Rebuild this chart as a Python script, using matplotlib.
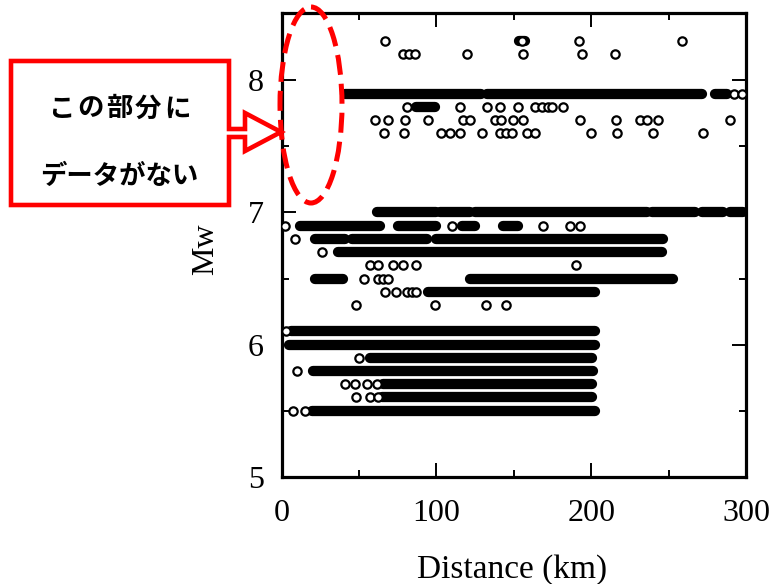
import matplotlib
matplotlib.use("Agg")
import matplotlib.pyplot as plt
from matplotlib.patches import Polygon, Ellipse

# isolated records (open circles): magnitude and distance
circle_mw = [8.3, 8.3, 8.3, 8.3,
             8.2, 8.2, 8.2, 8.2, 8.2, 8.2, 8.2,
             7.9, 7.9,
             7.8, 7.8, 7.8, 7.8, 7.8, 7.8, 7.8, 7.8, 7.8, 7.8,
             7.7, 7.7, 7.7, 7.7, 7.7, 7.7, 7.7, 7.7, 7.7, 7.7, 7.7, 7.7, 7.7, 7.7, 7.7, 7.7,
             7.6, 7.6, 7.6, 7.6, 7.6, 7.6, 7.6, 7.6, 7.6, 7.6, 7.6, 7.6, 7.6, 7.6, 7.6,
             6.9, 6.9, 6.9, 6.9, 6.9,
             6.8, 6.7,
             6.6, 6.6, 6.6, 6.6, 6.6, 6.6,
             6.5, 6.5, 6.5, 6.5,
             6.4, 6.4, 6.4, 6.4, 6.4,
             6.3, 6.3, 6.3, 6.3,
             6.1, 5.9, 5.8,
             5.7, 5.7, 5.7, 5.7, 5.6, 5.6, 5.6, 5.5, 5.5]
circle_dist = [66.8, 192, 258.6, 155,
               78.6, 82.5, 86.4, 119.6, 156, 194, 215.5,
               292, 297.5,
               80.8, 115, 132.5, 141, 153, 163.7, 168, 172, 174.4, 182,
               60.3, 68.9, 79.7, 94.7, 117.3, 121.7, 137.8, 142, 149.6, 156, 192.7, 216,
               231.5, 236, 243.3, 289.7,
               66.3, 79, 103, 108.8, 115, 129.2, 141, 145, 148.6, 158.3, 163.7, 200,
               216.8, 239.7, 272.4,
               2.1, 109.8, 169, 186.3, 192.7,
               8.6, 25.8,
               57, 62, 71.7, 78.6, 86.6, 190,
               53.4, 62, 65.5, 68.7,
               66.8, 74, 80.8, 84, 87,
               48, 99, 132, 145,
               2.5, 50, 9.7,
               41, 47.3, 54.9, 61.4, 48, 57, 62.4, 7, 15]

# dense runs of records (overlapping circles): magnitude, first and last distance
band_mw = [8.3,
           7.9, 7.9, 7.9,
           7.8,
           7.0, 7.0, 7.0, 7.0, 7.0, 7.0,
           6.9, 6.9, 6.9, 6.9,
           6.8, 6.8, 6.8,
           6.7,
           6.5, 6.5,
           6.4,
           6.1, 6.0, 5.9, 5.8, 5.7, 5.6, 5.5]
band_from = [153.5,
             41, 132.5, 280,
             87,
             61.4, 102.3, 124.9, 239, 271.4, 289.7,
             11.8, 75.3, 116.3, 143.2,
             21.5, 45.2, 100,
             36.6,
             21.5, 121.7,
             94.8,
             6, 5, 57, 20, 65.7, 65, 19.4]
band_to = [157,
           129, 271.4, 287.5,
           99,
           100, 121.5, 235.8, 267, 285.3, 298,
           63.5, 100, 124.9, 153,
           40.9, 93.7, 246.6,
           245.5,
           39.6, 253,
           202.5,
           202.4, 202.4, 200.3, 201.3, 200.3, 200.3, 202.4]

x_ticks = [0, 100, 200, 300]
y_ticks = [5, 6, 7, 8]

W, H = 775, 584
fig = plt.figure(figsize=(W / 100, H / 100), dpi=100)
plt.rcParams['font.family'] = ['Liberation Serif', 'DejaVu Serif']

# main axes placed in pixel terms
x0, x1, y_top, y_bot = 281.7, 746.0, 13.0, 476.7
ax = fig.add_axes([x0 / W, 1 - y_bot / H, (x1 - x0) / W, (y_bot - y_top) / H])
ax.set_xlim(0, 300)
ax.set_ylim(5, 8.51)

bands = ax.hlines(band_mw, band_from, band_to, colors='black', linewidth=7.4,
                  zorder=2)
bands.set_capstyle('round')
ax.plot(circle_dist, circle_mw, 'o', ls='none', ms=6.0, mew=1.6,
        mec='black', mfc='white', zorder=3)

ax.set_xticks(x_ticks)
ax.set_yticks(y_ticks)
ax.set_xticks([50, 150, 250], minor=True)
ax.set_yticks([5.5, 6.5, 7.5, 8.5], minor=True)
ax.tick_params(which='both', direction='in', top=True, right=True, width=1.4)
ax.tick_params(which='major', length=10, labelsize=23)
ax.tick_params(which='minor', length=5)
ax.tick_params(axis='x', pad=16)
ax.tick_params(axis='y', pad=13)
for s in ax.spines.values():
    s.set_linewidth(2.3)

ax.set_xlabel('Distance (km)', fontsize=24)
ax.set_ylabel('Mw', fontsize=23)
ax.xaxis.set_label_coords(0.496, -0.168)
ax.yaxis.set_label_coords(-0.132, 0.49)

# annotation layer in pixel coordinates
ov = fig.add_axes([0, 0, 1, 1], zorder=10)
ov.set_xlim(0, W)
ov.set_ylim(H, 0)
ov.axis('off')
ov.patch.set_alpha(0)

callout = [(11, 61), (229, 61), (229, 129), (245, 129), (245, 113), (281, 132),
           (245, 151), (245, 137), (229, 137), (229, 205), (11, 205)]
ov.add_patch(Polygon(callout, closed=True, fc='white', ec='#ff0000', lw=3.3,
                     joinstyle='miter'))
ov.add_patch(Ellipse((311, 105), 62, 196, fill=False, ec='#ff0000', lw=3.6,
                     ls=(0, (4, 1.8))))
jp = ['Noto Sans CJK JP', 'DejaVu Sans']
for i, ch in enumerate('この部分に'):
    ov.text(61 + 29 * i, 109, ch, family=jp, fontsize=19, fontweight='bold',
            ha='center', va='center')
ov.text(119, 176, 'データがない', family=jp, fontsize=19, fontweight='bold',
        ha='center', va='center')

fig.savefig('out.png', dpi=100)
